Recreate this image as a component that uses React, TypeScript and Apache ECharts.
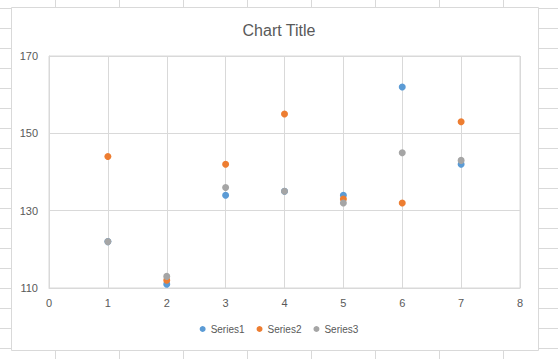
import React, { useEffect, useRef } from "react";
import * as echarts from "echarts";

const xValues = [1, 2, 3, 4, 5, 6, 7];
const series1 = [122, 111, 134, 135, 134, 162, 142];
const series2 = [144, 112, 142, 155, 133, 132, 153];
const series3 = [122, 113, 136, 135, 132, 145, 143];
const seriesNames = ["Series1", "Series2", "Series3"];
const colors = ["#5b9bd5", "#ed7d31", "#a5a5a5"];

export default function App() {
  const ref = useRef<HTMLDivElement>(null);
  useEffect(() => {
    if (!ref.current) return;
    const chart = echarts.init(ref.current, undefined, { renderer: "svg" });
    const all = [series1, series2, series3];
    const font = "'Liberation Sans', Arial, sans-serif";
    chart.setOption({
      animation: false,
      backgroundColor: "transparent",
      title: {
        text: "Chart Title",
        left: "center",
        top: 17,
        textStyle: { fontSize: 16, fontWeight: "normal", color: "#595959", fontFamily: font },
      },
      graphic: [
        {
          type: "rect",
          z: -10,
          silent: true,
          shape: { x: 11.5, y: 7.5, width: 527, height: 343 },
          style: { fill: "#ffffff", stroke: "#d9d9d9", lineWidth: 1 },
        },
      ],
      legend: {
        bottom: 20,
        left: "center",
        icon: "circle",
        itemWidth: 6,
        itemHeight: 6,
        itemGap: 12,
        textStyle: { fontSize: 10, color: "#595959", fontFamily: font },
        data: seriesNames,
      },
      grid: {
        left: 49,
        right: 38,
        top: 56,
        bottom: 71,
        show: true,
        borderColor: "#d9d9d9",
        borderWidth: 1,
        backgroundColor: "transparent",
      },
      xAxis: {
        type: "value",
        min: 0,
        max: 8,
        interval: 1,
        axisLine: { show: true, lineStyle: { color: "#d9d9d9" } },
        axisTick: { show: false },
        splitLine: { show: true, lineStyle: { color: "#d9d9d9" } },
        axisLabel: { color: "#595959", fontSize: 11, margin: 9, fontFamily: font },
      },
      yAxis: {
        type: "value",
        min: 110,
        max: 170,
        interval: 20,
        axisLine: { show: true, lineStyle: { color: "#d9d9d9" } },
        axisTick: { show: false },
        splitLine: { show: true, lineStyle: { color: "#d9d9d9" } },
        axisLabel: { color: "#595959", fontSize: 11, margin: 11, fontFamily: font },
      },
      series: all.map((vals, i) => ({
        name: seriesNames[i],
        type: "scatter",
        symbol: "circle",
        symbolSize: 7,
        itemStyle: { color: colors[i], opacity: 1 },
        data: xValues.map((x, j) => [x, vals[j]]),
        z: 2 + i,
      })),
    });
    return () => chart.dispose();
  }, []);
  return (
    <div
      style={{
        position: "fixed",
        left: 0,
        top: 0,
        width: 558,
        height: 359,
        backgroundColor: "#ffffff",
        backgroundImage:
          "linear-gradient(to right, #d9d9d9 1px, transparent 1px), linear-gradient(to bottom, #d9d9d9 1px, transparent 1px)",
        backgroundSize: "64px 100%, 100% 20px",
        backgroundPosition: "55px 0, 0 8px",
      }}
    >
      <div ref={ref} style={{ width: 558, height: 359 }} />
    </div>
  );
}
